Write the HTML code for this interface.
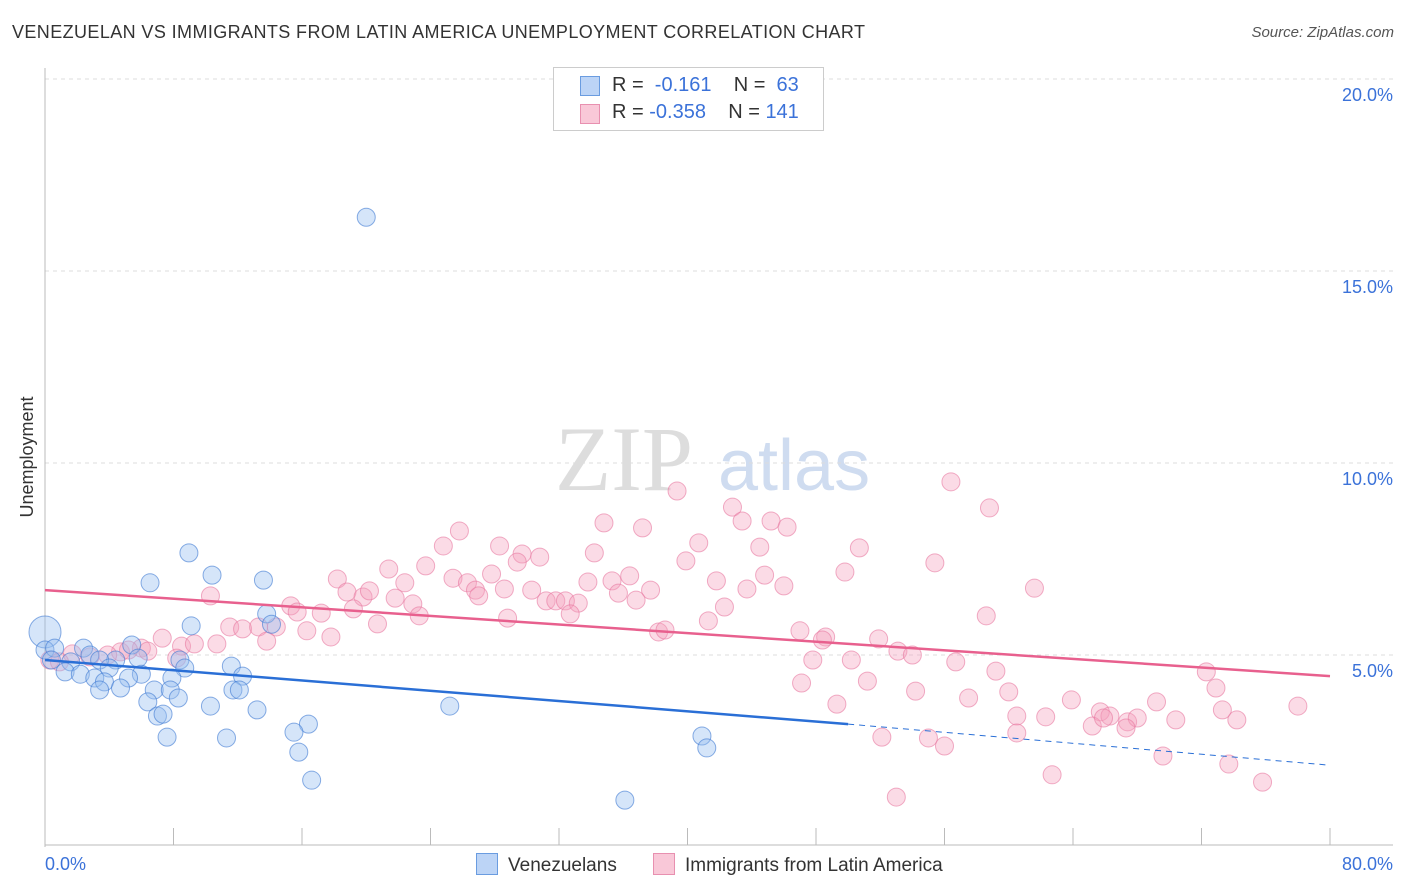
<!DOCTYPE html>
<html><head><meta charset="utf-8">
<style>
body{margin:0;background:#fff;font-family:"Liberation Sans",sans-serif;}
#wrap{position:relative;width:1406px;height:892px;overflow:hidden;}
.t{position:absolute;white-space:nowrap;}
</style></head>
<body>
<div id="wrap">
<div class="t" style="left:12px;top:22px;font-size:18px;color:#333;letter-spacing:0.4px;">VENEZUELAN VS IMMIGRANTS FROM LATIN AMERICA UNEMPLOYMENT CORRELATION CHART</div>
<div class="t" style="right:12px;top:24px;font-size:15px;color:#555;font-style:italic;">Source: ZipAtlas.com</div>
<svg id="svg" width="1406" height="892" style="position:absolute;left:0;top:0"></svg>
</div>
<script>
const xTicks=[0,8,16,24,32,40,48,56,64,72,80];
const yTicks=[5,10,15,20];
const blueX=[20.0,8.96,10.4,13.6,6.54,13.8,9.1,14.1,0,0,0.6,2.4,5.4,2.8,4.4,5.8,0.4,1.6,3.4,8.4,8.7,11.6,1.25,2.2,4.0,6.0,7.9,12.3,3.1,3.7,5.2,3.4,4.7,6.8,7.8,11.7,12.1,6.4,8.3,10.3,13.2,7.0,7.35,25.2,16.4,15.5,7.6,11.3,40.9,41.2,15.8,16.6,36.1];
const blueY=[16.4,7.66,7.08,6.95,6.88,6.07,5.76,5.8,5.6,5.13,5.18,5.18,5.26,5.0,4.87,4.92,4.87,4.82,4.87,4.87,4.66,4.71,4.56,4.5,4.66,4.5,4.4,4.45,4.4,4.3,4.4,4.09,4.14,4.09,4.09,4.09,4.09,3.78,3.88,3.67,3.57,3.41,3.46,3.67,3.2,2.99,2.86,2.84,2.89,2.58,2.47,1.74,1.22];
const pinkX=[39.35,56.4,42.8,58.8,43.4,45.2,34.8,46.2,37.2,25.8,24.8,28.3,29.7,30.8,34.2,40.7,44.5,50.7,55.4,39.9,29.4,21.4,23.7,61.6,18.2,22.4,25.4,26.3,27.8,35.3,36.4,41.8,44.8,49.8,33.8,30.3,28.6,26.8,27.0,18.8,19.8,20.2,21.8,22.9,31.2,31.8,32.4,33.2,35.7,37.7,43.7,46.0,36.8,15.3,15.7,17.2,19.2,23.3,28.8,32.7,42.3,58.6,10.3,11.5,12.3,13.3,14.4,16.3,17.8,20.7,41.3,47.0,48.6,38.2,38.6,48.4,51.9,53.1,54.0,50.2,56.7,47.8,59.2,72.3,7.3,8.5,9.3,8.2,10.7,13.8,6.0,4.7,5.2,6.4,3.9,2.8,1.7,0.3,0.9,47.1,51.2,54.2,57.5,60.0,63.9,69.2,72.9,73.3,74.2,78.0,49.3,60.5,62.3,65.7,66.3,65.2,65.9,67.4,68.0,70.4,67.3,60.5,52.1,55.0,56.0,69.6,73.7,62.7,75.8,53.0];
const pinkY=[9.27,9.51,8.85,8.83,8.49,8.49,8.44,8.33,8.31,8.23,7.84,7.84,7.63,7.55,7.66,7.92,7.81,7.79,7.40,7.45,7.42,7.24,7.32,6.74,6.98,6.88,7.0,6.88,7.11,6.93,7.06,6.93,7.08,7.16,6.90,6.69,6.72,6.69,6.54,6.64,6.51,6.67,6.48,6.33,6.41,6.41,6.41,6.35,6.61,6.69,6.72,6.80,6.43,6.28,6.12,6.09,6.20,6.02,5.96,6.07,6.25,6.02,6.54,5.73,5.68,5.73,5.73,5.63,5.47,5.81,5.89,5.63,5.47,5.60,5.65,5.39,5.42,5.10,5.0,4.87,4.82,4.87,4.58,4.56,5.44,5.23,5.29,4.92,5.29,5.36,5.18,5.08,5.13,5.10,5.0,4.95,5.03,4.87,4.82,4.27,4.32,4.06,3.88,4.04,3.83,3.78,4.14,3.57,3.31,3.67,3.72,3.41,3.39,3.52,3.41,3.15,3.36,3.26,3.36,3.31,3.10,2.97,2.86,2.84,2.63,2.37,2.16,1.88,1.69,1.30];
const blueTrend=[4.87,3.2,2.13];  // at x=0,50,80
const pinkTrend=[6.69,4.45];      // at x=0,80

const X=v=>45+v*16.0625, Y=v=>847-v*38.4;
const svg=document.getElementById('svg');
const NS='http://www.w3.org/2000/svg';
function el(tag,attrs,parent){const e=document.createElementNS(NS,tag);for(const k in attrs)e.setAttribute(k,attrs[k]);(parent||svg).appendChild(e);return e;}

let wm=el('text',{x:555,y:490,'font-size':92,fill:'#ddd','font-family':'Liberation Serif, serif'});wm.textContent='ZIP';


let wm2=el('text',{x:718,y:490,'font-size':72,fill:'#cfdcf0','font-family':'Liberation Sans, sans-serif'});wm2.textContent='atlas';



yTicks.forEach(t=>{
  const g=el('line',{x1:45,x2:1393,y1:Y(t),y2:Y(t),stroke:'#ddd','stroke-dasharray':'4,4'});
  
  
  const tx=el('text',{x:1393,y:Y(t)+22,'text-anchor':'end','font-size':18,fill:'#3b72d9'});
  tx.textContent=t.toFixed(1)+'%';
  
  
});
el('line',{x1:45,x2:45,y1:68,y2:847,stroke:'#bbb'});
el('line',{x1:45,x2:1393,y1:845,y2:845,stroke:'#bbb'});
xTicks.forEach(t=>{
  const l=el('line',{x1:X(t),x2:X(t),y1:828,y2:845,stroke:'#bbb'});
  
  
});
[[0,'start'],[80,'end']].forEach(([t,a])=>{
  const tx=el('text',{x:a==='start'?45:1393,y:870,'text-anchor':a,'font-size':18,fill:'#3b72d9'});
  tx.textContent=t.toFixed(1)+'%';
  
  
});
const yt=el('text',{x:0,y:0,'font-size':18,fill:'#333','text-anchor':'middle',transform:'translate(33,457) rotate(-90)'});
yt.textContent='Unemployment';



pinkX.forEach((x,i)=>{
  const c=el('circle',{cx:X(x),cy:Y(pinkY[i]),r:9,fill:'rgba(244,160,190,0.38)',stroke:'rgba(232,120,160,0.6)','stroke-width':1});
  
  
});
blueX.forEach((x,i)=>{
  const c=el('circle',{cx:X(x),cy:Y(blueY[i]),r:(x===0&&blueY[i]>5.5)?16:9,fill:'rgba(150,190,240,0.4)',stroke:'rgba(60,120,210,0.6)','stroke-width':1});
  
  
});
const pl=el('line',{x1:X(0),y1:Y(pinkTrend[0]),x2:X(80),y2:Y(pinkTrend[1]),stroke:'#e8608e','stroke-width':2.5});


const bl=el('line',{x1:X(0),y1:Y(blueTrend[0]),x2:X(50),y2:Y(blueTrend[1]),stroke:'#2a6fd6','stroke-width':2.5});


const bd=el('line',{x1:X(50),y1:Y(blueTrend[1]),x2:X(80),y2:Y(blueTrend[2]),stroke:'#2a6fd6','stroke-width':1,'stroke-dasharray':'6,5'});


</script>
<div class="t" style="left:553px;top:67px;width:269px;height:62px;border:1px solid #ccc;background:#fff;font-size:20px;color:#333;">
  <div style="position:absolute;left:26px;top:8px;width:18px;height:18px;background:#bcd4f6;border:1px solid #6a9ce0;"></div>
  <div style="position:absolute;left:58px;top:6px;">R = &nbsp;<span style="color:#3b72d9">-0.161</span>&nbsp;&nbsp;&nbsp; N = &nbsp;<span style="color:#3b72d9">63</span></div>
  <div style="position:absolute;left:26px;top:36px;width:18px;height:18px;background:#f9c8d8;border:1px solid #e890b0;"></div>
  <div style="position:absolute;left:58px;top:33px;">R = <span style="color:#3b72d9">-0.358</span>&nbsp;&nbsp;&nbsp; N = <span style="color:#3b72d9">141</span></div>
</div>
<div class="t" style="left:476px;top:853px;font-size:19px;color:#333;">
  <span style="display:inline-block;width:20px;height:20px;background:#bcd4f6;border:1px solid #6a9ce0;vertical-align:-4px;margin-right:10px;"></span>Venezuelans</div>
<div class="t" style="left:653px;top:853px;font-size:19px;color:#333;">
  <span style="display:inline-block;width:20px;height:20px;background:#f9c8d8;border:1px solid #e890b0;vertical-align:-4px;margin-right:10px;"></span>Immigrants from Latin America</div>
</body></html>
